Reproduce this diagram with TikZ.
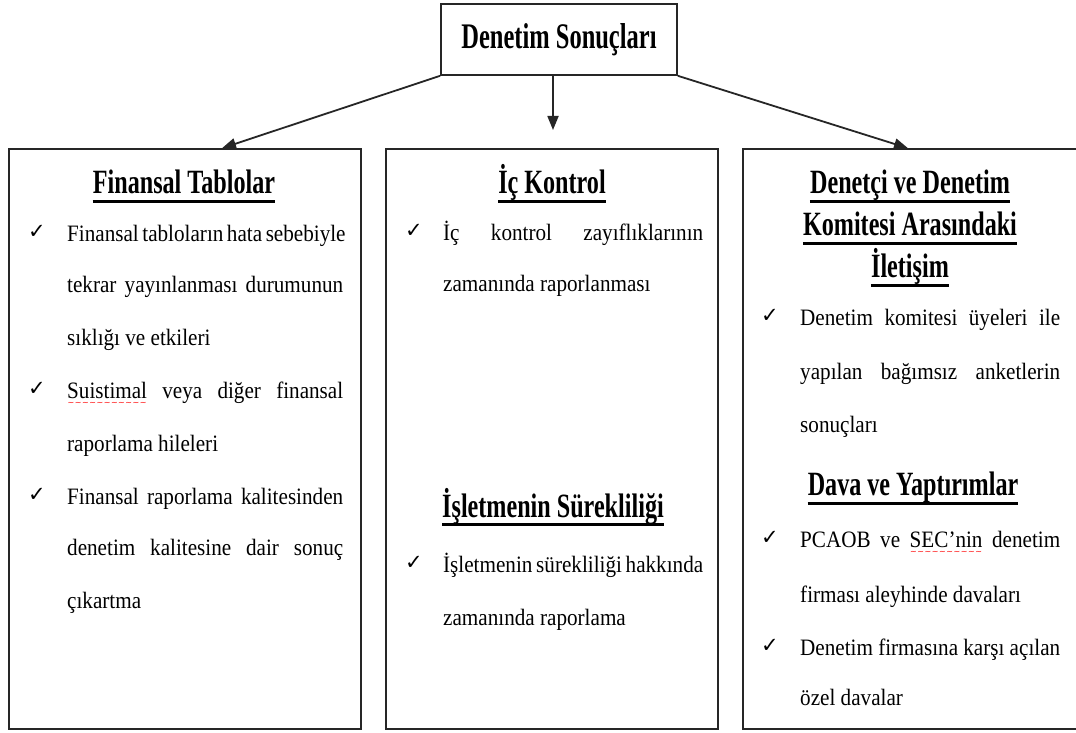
\documentclass[tikz,border=0pt]{standalone}
\usepackage{fontspec}
\setmainfont{Liberation Serif}
\newfontfamily\bodyf[FakeStretch=0.9]{Liberation Serif}
\newfontfamily\headf[FakeStretch=0.71]{Liberation Serif}
\newfontfamily\titlef[FakeStretch=0.68]{Liberation Serif}
\newfontfamily\chkf{DejaVu Sans}
\usetikzlibrary{arrows.meta}
\newsavebox\spellbox
\newcommand\spellw[1]{\leavevmode\sbox\spellbox{#1}\rlap{\raisebox{-7pt}[0pt][0pt]{\color{red}\chkf\fontsize{8}{8}\selectfont\hbox to \wd\spellbox{\xleaders\hbox{∼}\hfill}}}\usebox\spellbox}
\begin{document}
\begin{tikzpicture}[x=1pt,y=-1pt,
  box/.style={draw=black!85,line width=1.6pt,inner sep=0pt},
  arr/.style={line width=1.8pt,draw=black!85,-{Triangle[length=14pt,width=11pt]}},
  hd/.style={inner sep=0pt,anchor=base,font=\headf\bfseries\fontsize{34}{40}\selectfont},
  bl/.style={inner sep=0pt,anchor=mid west,font=\bodyf\fontsize{23.5}{28}\selectfont},
  ck/.style={inner sep=0pt,anchor=mid,font=\chkf\fontsize{21}{22}\selectfont},
  uline/.style={line width=3pt,draw=black}]
\useasboundingbox (0,0) rectangle (1076,733);

% boxes
\node[box,minimum width=236pt,minimum height=71pt,font=\titlef\bfseries\fontsize{36}{40}\selectfont] (top) at (559,39.5) {Denetim Sonuçları};
\node[box,minimum width=352pt,minimum height=580pt] (fin) at (185,439) {};
\node[box,minimum width=332pt,minimum height=580pt] (ic) at (552,439) {};
\node[box,minimum width=337pt,minimum height=580pt] (rb) at (911.5,439) {};

% arrows
\coordinate (mtip) at (553,130);
\draw[arr] (top.south west) -- ([xshift=37pt]fin.north);
\draw[arr] ([xshift=-6pt]top.south) -- (mtip);
\draw[arr] (top.south east) -- ([xshift=-3.5pt]rb.north);

% ---- left box
\node[hd] (h1) at (184,193) {Finansal Tablolar};
\draw[uline] ([yshift=-8pt]h1.base west) -- ([yshift=-8pt]h1.base east);
\node[ck] (c1) at (37,236) {✓};
\node[bl] (f1) at (67,239) {\makebox[276pt][s]{Finansal tabloların hata sebebiyle}};
\node[bl] (f2) at (67,290) {\makebox[276pt][s]{tekrar yayınlanması durumunun}};
\node[bl] (f3) at (67,343) {sıklığı ve etkileri};
\node[ck] (c2) at (37,393) {✓};
\node[bl] (f4) at (67,396) {\makebox[276pt][s]{\spellw{Suistimal} veya diğer finansal}};
\node[bl] (f5) at (67,449) {raporlama hileleri};
\node[ck] (c3) at (37,499) {✓};
\node[bl] (f6) at (67,502) {\makebox[276pt][s]{Finansal raporlama kalitesinden}};
\node[bl] (f7) at (67,553) {\makebox[276pt][s]{denetim kalitesine dair sonuç}};
\node[bl] (f8) at (67,606) {çıkartma};

% ---- middle box
\node[hd] (h2) at (552,193) {İç Kontrol};
\draw[uline] ([yshift=-8pt]h2.base west) -- ([yshift=-8pt]h2.base east);
\node[ck] (c4) at (414,235) {✓};
\node[bl] (i1) at (443,238) {\makebox[260pt][s]{İç kontrol zayıflıklarının}};
\node[bl] (i2) at (443,289) {zamanında raporlanması};
\node[hd] (h3) at (553,517) {İşletmenin Sürekliliği};
\draw[uline] ([yshift=-7pt]h3.base west) -- ([yshift=-7pt]h3.base east);
\node[ck] (c5) at (414,567) {✓};
\node[bl] (s1) at (443,570) {\makebox[260pt][s]{İşletmenin sürekliliği hakkında}};
\node[bl] (s2) at (443,623) {zamanında raporlama};

% ---- right box
\node[hd] (h4) at (910,193) {Denetçi ve Denetim};
\draw[uline] ([yshift=-8pt]h4.base west) -- ([yshift=-8pt]h4.base east);
\node[hd] (h5) at (910,235) {Komitesi Arasındaki};
\draw[uline] ([yshift=-8pt]h5.base west) -- ([yshift=-8pt]h5.base east);
\node[hd] (h6) at (910,277) {İletişim};
\draw[uline] ([yshift=-8pt]h6.base west) -- ([yshift=-8pt]h6.base east);
\node[ck] (c6) at (770,320) {✓};
\node[bl] (d1) at (800,323) {\makebox[260pt][s]{Denetim komitesi üyeleri ile}};
\node[bl] (d2) at (800,377) {\makebox[260pt][s]{yapılan bağımsız anketlerin}};
\node[bl] (d3) at (800,430) {sonuçları};
\node[hd] (h7) at (913,495) {Dava ve Yaptırımlar};
\draw[uline] ([yshift=-8pt]h7.base west) -- ([yshift=-8pt]h7.base east);
\node[ck] (c7) at (770,542) {✓};
\node[bl] (p1) at (800,545) {\makebox[260pt][s]{PCAOB ve \spellw{SEC’nin} denetim}};
\node[bl] (p2) at (800,600) {firması aleyhinde davaları};
\node[ck] (c8) at (770,650) {✓};
\node[bl] (p3) at (800,653) {\makebox[260pt][s]{Denetim firmasına karşı açılan}};
\node[bl] (p4) at (800,703) {özel davalar};
\end{tikzpicture}
\end{document}
